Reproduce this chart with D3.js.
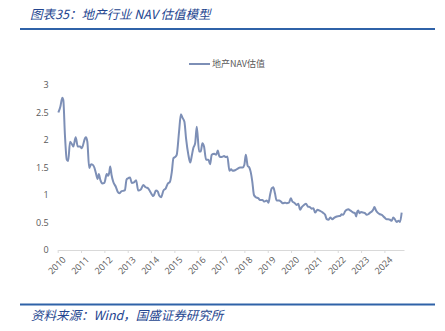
<!DOCTYPE html>
<html>
<head>
<meta charset="utf-8">
<script src="https://cdn.jsdelivr.net/npm/d3@7"></script>
<style>
  html, body { margin: 0; padding: 0; background: #ffffff; }
  svg { display: block; }
</style>
</head>
<body>
<svg id="chart" width="445" height="331"></svg>
<script>
// Sample times as decimal years
const periods = [
  2010.03, 2010.11, 2010.20, 2010.24, 2010.31, 2010.39, 2010.45, 2010.53, 2010.63, 2010.67,
  2010.77, 2010.86, 2010.96, 2011.03, 2011.17, 2011.21, 2011.27, 2011.35, 2011.43, 2011.50,
  2011.57, 2011.63, 2011.71, 2011.76, 2011.83, 2011.91, 2012.00, 2012.10, 2012.16, 2012.21,
  2012.25, 2012.31, 2012.38, 2012.49, 2012.57, 2012.64, 2012.74, 2012.84, 2012.88, 2012.95,
  2013.00, 2013.10, 2013.17, 2013.27, 2013.36, 2013.45, 2013.56, 2013.67, 2013.77, 2013.88,
  2013.99, 2014.10, 2014.21, 2014.29, 2014.35, 2014.43, 2014.53, 2014.63, 2014.71, 2014.81,
  2014.89, 2014.96, 2015.03, 2015.10, 2015.20, 2015.28, 2015.34, 2015.43, 2015.50, 2015.60,
  2015.68, 2015.74, 2015.81, 2015.89, 2015.96, 2016.06, 2016.13, 2016.20, 2016.27, 2016.36,
  2016.46, 2016.53, 2016.60, 2016.71, 2016.79, 2016.86, 2016.93, 2017.03, 2017.13, 2017.20,
  2017.27, 2017.36, 2017.43, 2017.50, 2017.60, 2017.72, 2017.81, 2017.93, 2018.00, 2018.06,
  2018.10, 2018.14, 2018.21, 2018.27, 2018.34, 2018.41, 2018.49, 2018.60, 2018.67, 2018.77,
  2018.86, 2018.96, 2019.03, 2019.10, 2019.17, 2019.24, 2019.31, 2019.38, 2019.49, 2019.57,
  2019.64, 2019.74, 2019.81, 2019.91, 2019.99, 2020.06, 2020.14, 2020.24, 2020.31, 2020.39,
  2020.46, 2020.56, 2020.64, 2020.72, 2020.81, 2020.89, 2020.96, 2021.03, 2021.13, 2021.20,
  2021.29, 2021.36, 2021.46, 2021.53, 2021.60, 2021.68, 2021.77, 2021.86, 2021.96, 2022.06,
  2022.10, 2022.17, 2022.24, 2022.31, 2022.38, 2022.46, 2022.53, 2022.60, 2022.67, 2022.74,
  2022.79, 2022.84, 2022.88, 2022.93, 2023.00, 2023.10, 2023.17, 2023.24, 2023.31, 2023.39,
  2023.46, 2023.53, 2023.57, 2023.64, 2023.71, 2023.81, 2023.89, 2023.96, 2024.03, 2024.10,
  2024.17, 2024.24, 2024.31, 2024.38, 2024.46, 2024.53, 2024.60, 2024.67, 2024.74
];

// 地产 NAV 估值
const navValues = [
  2.50, 2.60, 2.77, 2.73, 2.09, 1.64, 1.62, 1.97, 1.91, 1.88,
  2.05, 1.88, 1.88, 1.85, 2.03, 2.05, 1.97, 1.49, 1.56, 1.55,
  1.50, 1.41, 1.29, 1.38, 1.27, 1.21, 1.22, 1.38, 1.35, 1.41,
  1.52, 1.36, 1.24, 1.15, 1.06, 1.03, 1.07, 1.08, 1.09, 1.28,
  1.30, 1.32, 1.22, 1.23, 1.27, 1.08, 1.10, 1.18, 1.14, 1.12,
  1.04, 0.98, 1.08, 1.06, 0.99, 0.96, 1.08, 1.12, 1.20, 1.24,
  1.42, 1.67, 1.69, 1.73, 2.15, 2.47, 2.41, 2.33, 2.03, 1.73,
  1.59, 1.70, 1.85, 1.94, 2.24, 1.79, 1.79, 1.94, 1.88, 1.64,
  1.64, 1.56, 1.73, 1.75, 1.73, 1.81, 1.70, 1.69, 1.71, 1.69,
  1.70, 1.44, 1.47, 1.44, 1.45, 1.48, 1.50, 1.50, 1.55, 1.73,
  1.64, 1.53, 1.50, 1.42, 1.24, 1.00, 0.96, 0.94, 0.91, 0.91,
  0.88, 0.90, 0.86, 1.00, 1.12, 1.14, 1.03, 0.90, 0.90, 0.88,
  0.85, 0.86, 0.85, 0.86, 0.94, 0.88, 0.86, 0.82, 0.84, 0.73,
  0.78, 0.82, 0.84, 0.79, 0.78, 0.75, 0.76, 0.68, 0.73, 0.72,
  0.70, 0.68, 0.64, 0.56, 0.55, 0.59, 0.56, 0.59, 0.61, 0.62,
  0.62, 0.65, 0.64, 0.70, 0.73, 0.74, 0.72, 0.70, 0.68, 0.67,
  0.61, 0.70, 0.72, 0.67, 0.69, 0.68, 0.67, 0.64, 0.65, 0.68,
  0.70, 0.74, 0.78, 0.72, 0.68, 0.65, 0.64, 0.61, 0.58, 0.56,
  0.56, 0.55, 0.53, 0.59, 0.55, 0.51, 0.53, 0.51, 0.68
];

const yearTicks = [2010, 2011, 2012, 2013, 2014, 2015, 2016, 2017, 2018, 2019, 2020, 2021, 2022, 2023, 2024];
const valueTicks = [0, 0.5, 1, 1.5, 2, 2.5, 3];

const titleText = "图表35：地产行业 NAV 估值模型";
const seriesName = "地产NAV估值";
const sourceText = "资料来源：Wind，国盛证券研究所";

const lineColor = "#7d8fb6";
const ruleColor = "#2f62a8";
const titleColor = "#24458f";
const labelColor = "#595959";
const cjkFont = "'Noto Sans CJK SC', 'Noto Sans', sans-serif";
const latinFont = "'Open Sans', 'Noto Sans', 'Noto Sans CJK SC', sans-serif";

const svg = d3.select("#chart");

// Header and footer
svg.append("text")
  .attr("x", 30).attr("y", 19)
  .attr("font-family", cjkFont)
  .attr("font-size", 12.5)
  .attr("font-style", "italic")
  .attr("fill", titleColor)
  .text(titleText);

svg.append("line")
  .attr("x1", 20).attr("x2", 435)
  .attr("y1", 29).attr("y2", 29)
  .attr("stroke", ruleColor).attr("stroke-width", 2);

svg.append("line")
  .attr("x1", 20).attr("x2", 435)
  .attr("y1", 304.5).attr("y2", 304.5)
  .attr("stroke", ruleColor).attr("stroke-width", 2);

svg.append("text")
  .attr("x", 31).attr("y", 320)
  .attr("font-family", cjkFont)
  .attr("font-size", 12.5)
  .attr("font-style", "italic")
  .attr("fill", titleColor)
  .text(sourceText);

// Plot area
const plot = { left: 57.7, right: 404, top: 85, bottom: 250 };

const x = d3.scaleLinear()
  .domain([2010, 2024.84])
  .range([plot.left, plot.right]);

const y = d3.scaleLinear()
  .domain([0, 3])
  .range([plot.bottom, plot.top]);

// Y axis: labels only
const yAxis = svg.append("g")
  .attr("transform", `translate(${plot.left - 5},0)`)
  .call(d3.axisLeft(y).tickValues(valueTicks).tickSize(0).tickPadding(4).tickFormat(d3.format("")));
yAxis.select(".domain").remove();
yAxis.selectAll("text")
  .attr("font-family", latinFont)
  .attr("font-size", 9)
  .attr("fill", labelColor);

// X axis
const xAxis = svg.append("g")
  .attr("transform", `translate(0,${plot.bottom})`)
  .call(d3.axisBottom(x).tickValues(yearTicks).tickSize(3).tickSizeOuter(0).tickFormat(d3.format("d")));
xAxis.select(".domain").attr("stroke", "#d9d9d9");
xAxis.selectAll(".tick line").attr("stroke", "#d9d9d9");
xAxis.selectAll("text")
  .attr("font-family", latinFont)
  .attr("font-size", 9)
  .attr("fill", labelColor)
  .attr("text-anchor", "end")
  .attr("dy", 0)
  .attr("transform", "translate(4,6) rotate(-45)");

// Series line
const series = periods.map((t, i) => ({ t, v: navValues[i] }));
const line = d3.line()
  .x(d => x(d.t))
  .y(d => y(d.v))
  .curve(d3.curveMonotoneX);

svg.append("path")
  .datum(series)
  .attr("d", line)
  .attr("fill", "none")
  .attr("stroke", lineColor)
  .attr("stroke-width", 2)
  .attr("stroke-linejoin", "round");

// Legend
const legend = svg.append("g").attr("transform", "translate(189,64)");
legend.append("line")
  .attr("x1", 0).attr("x2", 21)
  .attr("y1", 0).attr("y2", 0)
  .attr("stroke", lineColor).attr("stroke-width", 2);
legend.append("text")
  .attr("x", 23).attr("y", 3)
  .attr("font-family", cjkFont)
  .attr("font-size", 9)
  .attr("fill", labelColor)
  .text(seriesName);
</script>
</body>
</html>
